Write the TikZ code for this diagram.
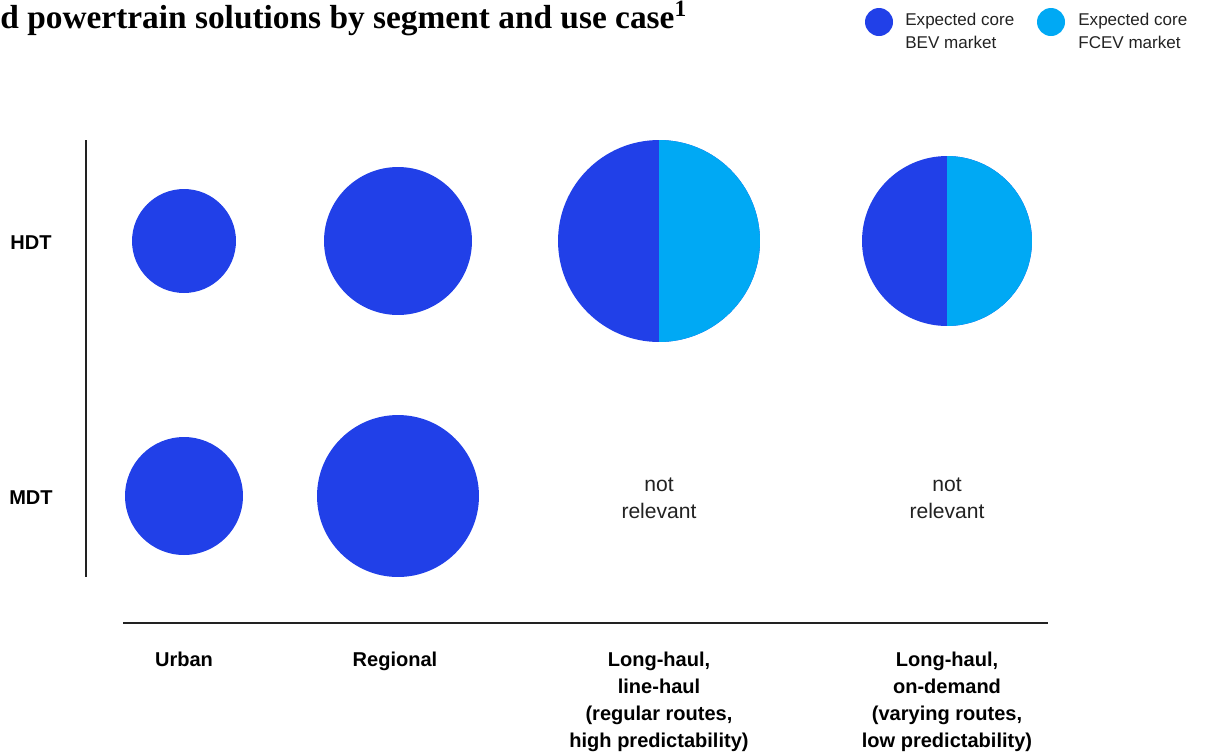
\documentclass[tikz,border=0pt]{standalone}
\usepackage{fontspec}
\setmainfont{Liberation Sans}
\newfontfamily\titlefont{Liberation Serif}
\definecolor{bevblue}{HTML}{2140E8}
\definecolor{fcevblue}{HTML}{00A9F4}
\definecolor{inkgray}{HTML}{222222}

\begin{document}
\begin{tikzpicture}[x=0.02cm,y=-0.02cm]

\tikzset{bev/.style = {shape=circle,fill=bevblue,inner sep=0pt,outer sep=0pt}}
\tikzset{fcev/.style = {fill=fcevblue}}
\tikzset{lbl/.style = {font=\bfseries\fontsize{11.4}{15.3}\selectfont,align=center,anchor=base,inner sep=0pt}}
\tikzset{note/.style = {font=\fontsize{12}{15.3}\selectfont,text=inkgray,align=center,anchor=base,inner sep=0pt}}
\tikzset{key/.style = {font=\fontsize{9.7}{13}\selectfont,text=inkgray,align=left,anchor=base west,inner sep=0pt}}
\tikzset{axis/.style = {draw=inkgray,line width=0.7pt}}

\useasboundingbox (0,0) rectangle (1207,755);

%title
\node[anchor=base west, inner sep=0pt, font=\titlefont\bfseries\fontsize{19}{22}\selectfont] (title) at (0,28) {d powertrain solutions by segment and use case\textsuperscript{1}};

%legend (base = last line)
\node[bev, minimum size=0.56cm] (bevkey) at (879,22) {};
\node[key] (bevtxt) at (905,48) {Expected core\\BEV market};
\node[bev, fcev, minimum size=0.56cm] (fcevkey) at (1051,22) {};
\node[key] (fcevtxt) at (1078,48) {Expected core\\FCEV market};

%axes
\coordinate (ytop) at (86,140);
\coordinate (ybot) at (86,577);
\coordinate (xleft) at (123,623);
\coordinate (xright) at (1048,623);
\draw[axis] (ytop) -- (ybot);
\draw[axis] (xleft) -- (xright);

%row labels
\node[lbl] (hdt) at (31,249) {HDT};
\node[lbl] (mdt) at (31,504) {MDT};

%HDT circles
\node[bev, minimum size=2.08cm] (urbhdt) at (184,241) {};
\node[bev, minimum size=2.96cm] (reghdt) at (398,241) {};
\node[bev, minimum size=4.04cm] (linehdt) at (659,241) {};
\fill[fcev] (linehdt.north) arc[start angle=90, end angle=-90, radius=2.02cm] -- cycle;
\node[bev, minimum size=3.4cm] (demhdt) at (947,241) {};
\fill[fcev] (demhdt.north) arc[start angle=90, end angle=-90, radius=1.7cm] -- cycle;

%MDT circles
\node[bev, minimum size=2.36cm] (urbmdt) at (184,496) {};
\node[bev, minimum size=3.24cm] (regmdt) at (398,496) {};
\node[note] (linemdt) at (659,518) {not\\relevant};
\node[note] (demmdt) at (947,518) {not\\relevant};

%column labels
\node[lbl] (urban) at (184,666) {Urban};
\node[lbl] (regional) at (395,666) {Regional};
\node[lbl] (linehaul) at (659,747) {Long-haul,\\line-haul\\(regular routes,\\high predictability)};
\node[lbl] (ondemand) at (947,747) {Long-haul,\\on-demand\\(varying routes,\\low predictability)};

\end{tikzpicture}
\end{document}
